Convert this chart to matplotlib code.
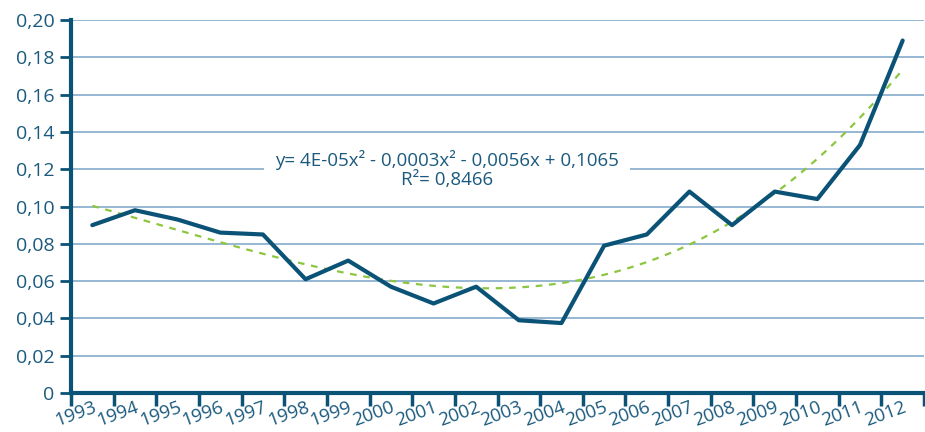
import numpy as np
import matplotlib
matplotlib.use("Agg")
import matplotlib.pyplot as plt
from matplotlib.ticker import FixedLocator

plt.rcParams['font.family'] = ['Open Sans', 'DejaVu Sans']

years = [str(y) for y in range(1993, 2013)]
values = [0.090, 0.098, 0.093, 0.086, 0.085, 0.061, 0.071, 0.057, 0.048, 0.057,
          0.039, 0.0375, 0.079, 0.085, 0.108, 0.090, 0.108, 0.104, 0.133, 0.189]
yticks = [0, 0.02, 0.04, 0.06, 0.08, 0.10, 0.12, 0.14, 0.16, 0.18, 0.20]
ytick_labels = ["0", "0,02", "0,04", "0,06", "0,08", "0,10", "0,12", "0,14", "0,16", "0,18", "0,20"]
equation = "y= 4E-05x\u00b2 - 0,0003x\u00b2 - 0,0056x + 0,1065\nR\u00b2= 0,8466"

dark = "#0b5277"
label_color = "#1b5a7e"
grid_color = "#7ba3c8"
trend_color = "#8cc63f"

fig = plt.figure(figsize=(9.25, 4.32), dpi=100)
ax = fig.add_axes([71/925, 39/432, 853/925, 373/432])

x = np.arange(len(values))
ax.plot(x, values, color=dark, lw=3, solid_capstyle='round', solid_joinstyle='round', zorder=4)

coef = np.polyfit(x + 1, values, 3)
xs = np.linspace(0, len(values) - 1, 200)
ax.plot(xs, np.polyval(coef, xs + 1), color=trend_color, lw=1.6, ls=(0, (3, 3)), zorder=3)

ax.set_xlim(-0.5, len(values) - 0.5)
ax.set_ylim(0, 0.20)

ax.set_yticks(yticks)
ax.set_yticklabels(ytick_labels)
for yv in yticks[1:]:
    ax.axhline(yv, color=grid_color, lw=1.1, zorder=1)

ax.set_xticks(x)
ax.set_xticklabels(years, rotation=20, ha='right', va='top', rotation_mode='anchor')
ax.xaxis.set_minor_locator(FixedLocator(np.arange(-0.5, len(values), 1.0)))
ax.tick_params(axis='x', which='major', length=0, pad=4, labelsize=13.5, labelcolor=label_color)
ax.tick_params(axis='x', which='minor', length=9, width=2.5, color=dark, direction='out')
ax.tick_params(axis='y', which='major', length=8, width=2, color=dark, labelsize=14,
               labelcolor=label_color, pad=4)

for s in ['top', 'right']:
    ax.spines[s].set_visible(False)
for s in ['left', 'bottom']:
    ax.spines[s].set_color(dark)
    ax.spines[s].set_linewidth(3)
    ax.spines[s].set_zorder(5)

ax.text(0.441, 0.6, equation, transform=ax.transAxes, ha='center', va='center',
        fontsize=13.5, color=label_color, linespacing=1.1, zorder=6,
        bbox=dict(facecolor='white', edgecolor='none', pad=8))

fig.savefig("out.png", dpi=100)
